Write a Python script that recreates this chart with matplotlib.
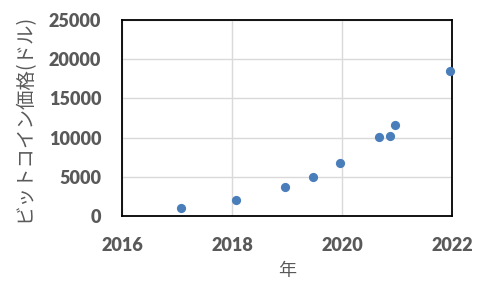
import matplotlib
matplotlib.use("Agg")
import matplotlib.pyplot as plt

years = [2017.08, 2018.08, 2018.97, 2019.48, 2019.97, 2020.68, 2020.88, 2020.97, 2021.97]
prices = [980, 2000, 3650, 4950, 6720, 10050, 10170, 11570, 18450]
xticks = [2016, 2018, 2020, 2022]
yticks = [0, 5000, 10000, 15000, 20000, 25000]

plt.rcParams['font.family'] = ['Noto Sans CJK JP', 'DejaVu Sans']

fig = plt.figure(figsize=(4.88, 2.88), dpi=100)
ax = fig.add_axes([122/488, 1-216/288, 330/488, 196/288])
ax.scatter(years, prices, s=44, color='#4A7EBB', zorder=3, linewidths=0, clip_on=False)
ax.set_xlim(2016, 2022)
ax.set_ylim(0, 25000)
ax.set_xticks(xticks)
ax.set_yticks(yticks)
ax.grid(True, color='#D9D9D9', linewidth=1.0, zorder=0)
for s in ax.spines.values():
    s.set_color('black')
    s.set_linewidth(1.3)
ax.tick_params(length=0, labelcolor='#595959')
for lab in ax.get_xticklabels() + ax.get_yticklabels():
    lab.set_fontfamily('Lato')
    lab.set_fontweight('heavy')
    lab.set_fontsize(13)
ax.tick_params(axis='x', pad=15)
ax.tick_params(axis='y', pad=15)
ax.set_xlabel('年', fontsize=13, color='#595959', labelpad=6)
ax.set_ylabel('ビットコイン価格(ドル)', fontsize=14, color='#595959', labelpad=10)
fig.savefig('out.png', dpi=100)
